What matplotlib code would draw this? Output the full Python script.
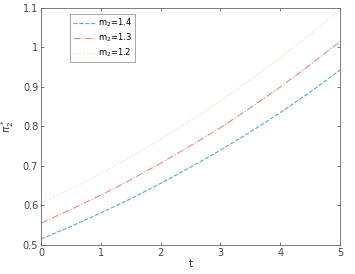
import matplotlib.pyplot as plt
import matplotlib.ticker as mticker

# values
t = [0, 0.5, 1, 1.5, 2, 2.5, 3, 3.5, 4, 4.5, 5]
pi2_m14 = [0.515, 0.547, 0.581, 0.617, 0.656, 0.697, 0.740, 0.786, 0.835, 0.887, 0.943]
pi2_m13 = [0.555, 0.590, 0.626, 0.665, 0.707, 0.751, 0.797, 0.847, 0.900, 0.956, 1.015]
pi2_m12 = [0.605, 0.642, 0.681, 0.723, 0.768, 0.815, 0.865, 0.918, 0.974, 1.034, 1.097]
labels = [r"m$_2$=1.4", r"m$_2$=1.3", r"m$_2$=1.2"]

fig = plt.figure(figsize=(3.55, 2.74), dpi=100)
ax = fig.add_axes([0.1155, 0.106, 0.8425, 0.865])

ax.plot(t, pi2_m14, color="#5aa6d6", linestyle="--", linewidth=0.8, label=labels[0])
ax.plot(t, pi2_m13, color="#e0907a", linestyle="-.", linewidth=0.8, label=labels[1])
ax.plot(t, pi2_m12, color="#f1e4b4", linestyle=":", linewidth=0.9, label=labels[2])

ax.set_xlim(0, 5)
ax.set_ylim(0.5, 1.1)
ax.set_xticks([0, 1, 2, 3, 4, 5])
ax.set_yticks([0.5, 0.6, 0.7, 0.8, 0.9, 1.0, 1.1])
ax.yaxis.set_major_formatter(mticker.FuncFormatter(lambda v, p: f"{v:g}"))
ax.tick_params(direction="in", length=2.5, width=0.5, labelsize=7,
               colors="#444444", top=True, right=True, pad=2)
for s in ax.spines.values():
    s.set_color("#666666")
    s.set_linewidth(0.6)

ax.set_xlabel("t", fontsize=7.5, color="#333333", labelpad=1)
ax.set_ylabel(r"$\pi_2^*$", fontsize=7.5, color="#333333", labelpad=5)

leg = ax.legend(loc="upper left", bbox_to_anchor=(0.097, 0.975), fontsize=6,
                frameon=True, fancybox=False, handlelength=2.6, borderpad=0.35,
                labelspacing=0.3, handletextpad=0.4, borderaxespad=0)
leg.get_frame().set_edgecolor("#666666")
leg.get_frame().set_linewidth(0.5)

plt.savefig("out.png", dpi=100)
